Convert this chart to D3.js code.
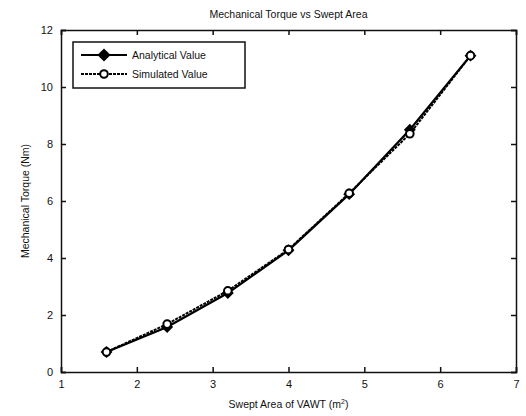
<!DOCTYPE html>
<html><head><meta charset="utf-8">
<script src="https://cdn.jsdelivr.net/npm/d3@7"></script>
<style>body{margin:0;background:#fff;} svg{display:block;} text{font-family:"Liberation Sans",Arial,sans-serif;fill:#111;}</style>
</head><body>
<script>
const areas = [1.6, 2.4, 3.2, 4.0, 4.8, 5.6, 6.4];
const analytical = [0.70, 1.58, 2.77, 4.27, 6.24, 8.50, 11.10];
const simulated = [0.70, 1.68, 2.85, 4.30, 6.27, 8.36, 11.10];
const xTicks = [1, 2, 3, 4, 5, 6, 7];
const yTicks = [0, 2, 4, 6, 8, 10, 12];
const seriesNames = ["Analytical Value", "Simulated Value"];

const W = 526, H = 416;
const m = {l: 61, r: 10, t: 30, b: 44};
const svg = d3.select("body").append("svg").attr("width", W).attr("height", H);
const x = d3.scaleLinear().domain([1, 7]).range([m.l, W - m.r]);
const y = d3.scaleLinear().domain([0, 12]).range([H - m.b, m.t]);

const fs = "11px";
svg.append("g").attr("transform", `translate(0,${H - m.b})`)
  .call(d3.axisBottom(x).tickValues(xTicks).tickSize(-5).tickPadding(8).tickFormat(d3.format("d")))
  .call(g => g.selectAll("text").style("font-size", fs).style("fill", "#111"));
svg.append("g").attr("transform", `translate(0,${m.t})`)
  .call(d3.axisTop(x).tickValues(xTicks).tickSize(-5).tickFormat(""));
svg.append("g").attr("transform", `translate(${m.l},0)`)
  .call(d3.axisLeft(y).tickValues(yTicks).tickSize(-5).tickPadding(8).tickFormat(d3.format("d")))
  .call(g => g.selectAll("text").style("font-size", fs).style("fill", "#111"));
svg.append("g").attr("transform", `translate(${W - m.r},0)`)
  .call(d3.axisRight(y).tickValues(yTicks).tickSize(-5).tickFormat(""));
svg.selectAll(".domain").attr("stroke", "#111").attr("stroke-width", 1.5);
svg.selectAll(".tick line").attr("stroke", "#111").attr("stroke-width", 1.5);

svg.append("text").attr("x", (m.l + W - m.r) / 2).attr("y", 18).attr("text-anchor", "middle")
  .style("font-size", "10.5px").text("Mechanical Torque vs Swept Area");
const xl = svg.append("text").attr("x", (m.l + W - m.r) / 2).attr("y", 408).attr("text-anchor", "middle")
  .style("font-size", "10.5px");
xl.append("tspan").text("Swept Area of VAWT (m");
xl.append("tspan").attr("dy", -4).style("font-size", "7px").text("2");
xl.append("tspan").attr("dy", 4).text(")");
svg.append("text").attr("transform", `translate(29,${(m.t + H - m.b) / 2}) rotate(-90)`)
  .attr("text-anchor", "middle").style("font-size", "10.5px").text("Mechanical Torque (Nm)");

const line = d3.line().x(d => x(d[0])).y(d => y(d[1]));
const aData = areas.map((a, i) => [a, analytical[i]]);
const sData = areas.map((a, i) => [a, simulated[i]]);
svg.append("path").datum(aData).attr("d", line).attr("fill", "none").attr("stroke", "#000").attr("stroke-width", 2.2);
svg.append("path").datum(sData).attr("d", line).attr("fill", "none").attr("stroke", "#000")
  .attr("stroke-width", 2).attr("stroke-dasharray", "3,1");

const diamond = d3.symbol().type(d3.symbolDiamond2).size(90);
svg.selectAll(".dia").data(aData).join("path").attr("d", diamond)
  .attr("transform", d => `translate(${x(d[0])},${y(d[1])})`).attr("fill", "#000");
svg.selectAll(".cir").data(sData).join("circle")
  .attr("cx", d => x(d[0])).attr("cy", d => y(d[1])).attr("r", 3.8)
  .attr("fill", "#fff").attr("stroke", "#000").attr("stroke-width", 2);

const lg = svg.append("g");
lg.append("rect").attr("x", 73).attr("y", 42).attr("width", 172).attr("height", 46)
  .attr("fill", "#fff").attr("stroke", "#111").attr("stroke-width", 1.5);
seriesNames.forEach((name, i) => {
  const yy = 55 + i * 19;
  lg.append("line").attr("x1", 81).attr("x2", 127).attr("y1", yy).attr("y2", yy)
    .attr("stroke", "#000").attr("stroke-width", 2.2).attr("stroke-dasharray", i ? "3,1" : null);
  if (i === 0) lg.append("path").attr("d", d3.symbol().type(d3.symbolDiamond2).size(110)).attr("transform", `translate(104,${yy})`).attr("fill", "#000");
  else lg.append("circle").attr("cx", 104).attr("cy", yy).attr("r", 3.8).attr("fill", "#fff").attr("stroke", "#000").attr("stroke-width", 2);
  lg.append("text").attr("x", 132).attr("y", yy + 4).style("font-size", "10.5px").text(name);
});
</script>
</body></html>
